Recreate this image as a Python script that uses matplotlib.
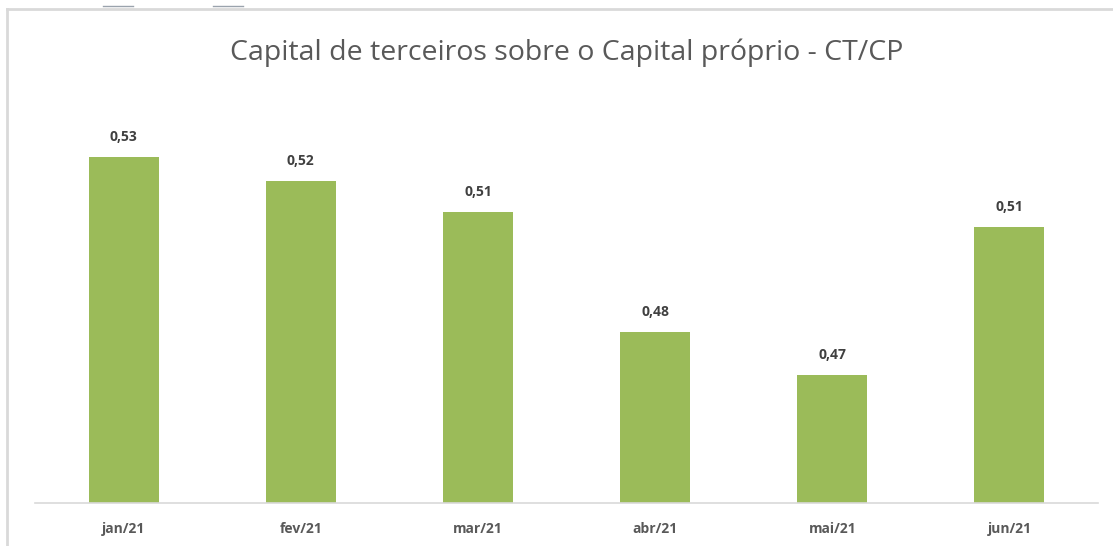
import matplotlib.pyplot as plt
from matplotlib.lines import Line2D

# data (labels are rounded in the chart, heights)
meses = ['jan/21', 'fev/21', 'mar/21', 'abr/21', 'mai/21', 'jun/21']
ct_cp = [0.528, 0.5212, 0.5124, 0.4784, 0.4663, 0.5082]
rotulos = ['0,53', '0,52', '0,51', '0,48', '0,47', '0,51']

fig = plt.figure(figsize=(11.13, 5.46), dpi=100)
plt.rcParams['font.family'] = ['Open Sans', 'DejaVu Sans']

ax = fig.add_axes([35 / 1113, 43 / 546, 1063 / 1113, 388 / 546])
x = range(len(meses))
bars = ax.bar(x, ct_cp, width=0.395, color='#9BBB59', zorder=2)
ax.set_xlim(-0.5, len(meses) - 0.5)
ax.set_ylim(0.43, 0.54)

for b, txt in zip(bars, rotulos):
    ax.annotate(txt, (b.get_x() + b.get_width() / 2, b.get_height()),
                xytext=(0, 20), textcoords='offset pixels', ha='center', va='center',
                fontsize=10, fontweight='bold', color='#404040')

ax.set_xticks(list(x))
ax.set_xticklabels(meses, fontsize=10, fontweight='bold', color='#595959')
ax.tick_params(axis='x', length=0, pad=14)
ax.set_yticks([])
for s in ['left', 'right', 'top']:
    ax.spines[s].set_visible(False)
ax.spines['bottom'].set_color('#D9D9D9')
ax.spines['bottom'].set_linewidth(1.2)

fig.text(0.5095, 1 - 53 / 546, 'Capital de terceiros sobre o Capital próprio - CT/CP',
         ha='center', va='center', fontsize=20.5, color='#595959')

# chart frame (left and top edges visible in the crop)
fig.add_artist(Line2D([6.5 / 1113, 6.5 / 1113], [0, 1 - 9 / 546], transform=fig.transFigure,
                      color='#D9D9D9', lw=2))
fig.add_artist(Line2D([6.5 / 1113, 1], [1 - 9 / 546, 1 - 9 / 546], transform=fig.transFigure,
                      color='#D9D9D9', lw=2))
# small handle marks above the frame
for x0, x1 in [(103, 133), (213, 243)]:
    fig.add_artist(Line2D([x0 / 1113, x1 / 1113], [1 - 6 / 546, 1 - 6 / 546],
                          transform=fig.transFigure, color='#9AA3AD', lw=1))

fig.savefig('out.png', dpi=100)
